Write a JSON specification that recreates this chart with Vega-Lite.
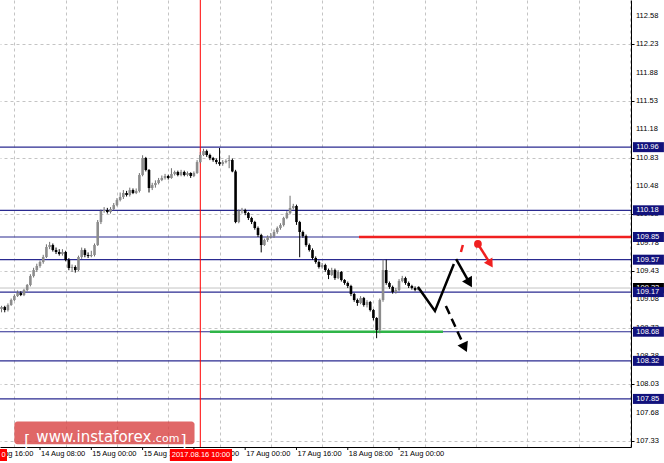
{
"$schema": "https://vega.github.io/schema/vega-lite/v6.json",
"width": 631, "height": 447,
"autosize": "none",
"padding": {"left": 0, "top": 0, "right": 33, "bottom": 16},
"background": "white",
"config": {"view": {"stroke": null}, "font": "Liberation Sans",
 "axis": {"grid": true, "gridColor": "#c4c4c4", "gridDash": [3,3], "gridWidth": 1, "domain": true, "domainColor": "#000000", "domainWidth": 1, "labels": false}},
"datasets": {
"candles": [
{"i":-12,"o":108.96,"h":109.0,"l":108.92,"c":108.985},
{"i":-11,"o":108.985,"h":109.0,"l":108.92,"c":108.948},
{"i":-10,"o":108.948,"h":109.03,"l":108.93,"c":109.01},
{"i":-9,"o":109.01,"h":109.09,"l":109.0,"c":109.072},
{"i":-8,"o":109.072,"h":109.14,"l":109.06,"c":109.121},
{"i":-7,"o":109.121,"h":109.19,"l":109.11,"c":109.158},
{"i":-6,"o":109.158,"h":109.18,"l":109.12,"c":109.134},
{"i":-5,"o":109.134,"h":109.21,"l":109.12,"c":109.195},
{"i":-4,"o":109.195,"h":109.27,"l":109.18,"c":109.257},
{"i":-3,"o":109.257,"h":109.39,"l":109.24,"c":109.368},
{"i":-2,"o":109.368,"h":109.47,"l":109.35,"c":109.442},
{"i":-1,"o":109.442,"h":109.52,"l":109.42,"c":109.492},
{"i":0,"o":109.492,"h":109.56,"l":109.47,"c":109.541},
{"i":1,"o":109.541,"h":109.63,"l":109.52,"c":109.603},
{"i":2,"o":109.603,"h":109.76,"l":109.59,"c":109.727},
{"i":3,"o":109.727,"h":109.79,"l":109.7,"c":109.751},
{"i":4,"o":109.751,"h":109.77,"l":109.67,"c":109.689},
{"i":5,"o":109.689,"h":109.72,"l":109.64,"c":109.665},
{"i":6,"o":109.665,"h":109.7,"l":109.62,"c":109.64},
{"i":7,"o":109.64,"h":109.7,"l":109.62,"c":109.665},
{"i":8,"o":109.665,"h":109.68,"l":109.55,"c":109.566},
{"i":9,"o":109.566,"h":109.59,"l":109.44,"c":109.467},
{"i":10,"o":109.467,"h":109.51,"l":109.42,"c":109.48},
{"i":11,"o":109.48,"h":109.5,"l":109.41,"c":109.442},
{"i":12,"o":109.442,"h":109.62,"l":109.43,"c":109.603},
{"i":13,"o":109.603,"h":109.72,"l":109.58,"c":109.689},
{"i":14,"o":109.689,"h":109.71,"l":109.6,"c":109.628},
{"i":15,"o":109.628,"h":109.66,"l":109.59,"c":109.615},
{"i":16,"o":109.615,"h":109.68,"l":109.6,"c":109.628},
{"i":17,"o":109.628,"h":109.77,"l":109.61,"c":109.751},
{"i":18,"o":109.751,"h":110.06,"l":109.74,"c":110.035},
{"i":19,"o":110.035,"h":110.19,"l":110.01,"c":110.171},
{"i":20,"o":110.171,"h":110.22,"l":110.15,"c":110.184},
{"i":21,"o":110.184,"h":110.21,"l":110.14,"c":110.159},
{"i":22,"o":110.159,"h":110.22,"l":110.14,"c":110.196},
{"i":23,"o":110.196,"h":110.27,"l":110.18,"c":110.245},
{"i":24,"o":110.245,"h":110.33,"l":110.23,"c":110.307},
{"i":25,"o":110.307,"h":110.4,"l":110.29,"c":110.344},
{"i":26,"o":110.344,"h":110.43,"l":110.32,"c":110.394},
{"i":27,"o":110.394,"h":110.42,"l":110.35,"c":110.369},
{"i":28,"o":110.369,"h":110.46,"l":110.35,"c":110.431},
{"i":29,"o":110.431,"h":110.45,"l":110.38,"c":110.394},
{"i":30,"o":110.394,"h":110.45,"l":110.38,"c":110.418},
{"i":31,"o":110.418,"h":110.64,"l":110.4,"c":110.616},
{"i":32,"o":110.616,"h":110.86,"l":110.6,"c":110.826},
{"i":33,"o":110.826,"h":110.84,"l":110.66,"c":110.678},
{"i":34,"o":110.678,"h":110.69,"l":110.4,"c":110.455},
{"i":35,"o":110.455,"h":110.52,"l":110.43,"c":110.492},
{"i":36,"o":110.492,"h":110.55,"l":110.46,"c":110.517},
{"i":37,"o":110.517,"h":110.58,"l":110.5,"c":110.554},
{"i":38,"o":110.554,"h":110.61,"l":110.54,"c":110.579},
{"i":39,"o":110.579,"h":110.63,"l":110.56,"c":110.604},
{"i":40,"o":110.604,"h":110.62,"l":110.56,"c":110.579},
{"i":41,"o":110.579,"h":110.7,"l":110.57,"c":110.628},
{"i":42,"o":110.628,"h":110.67,"l":110.61,"c":110.653},
{"i":43,"o":110.653,"h":110.67,"l":110.6,"c":110.616},
{"i":44,"o":110.616,"h":110.68,"l":110.6,"c":110.653},
{"i":45,"o":110.653,"h":110.67,"l":110.6,"c":110.616},
{"i":46,"o":110.616,"h":110.66,"l":110.6,"c":110.641},
{"i":47,"o":110.641,"h":110.65,"l":110.58,"c":110.604},
{"i":48,"o":110.604,"h":110.66,"l":110.59,"c":110.641},
{"i":49,"o":110.641,"h":110.8,"l":110.63,"c":110.776},
{"i":50,"o":110.776,"h":110.9,"l":110.76,"c":110.863},
{"i":51,"o":110.863,"h":110.94,"l":110.85,"c":110.912},
{"i":52,"o":110.912,"h":110.93,"l":110.84,"c":110.863},
{"i":53,"o":110.863,"h":110.88,"l":110.8,"c":110.826},
{"i":54,"o":110.826,"h":110.84,"l":110.78,"c":110.801},
{"i":55,"o":110.801,"h":110.82,"l":110.75,"c":110.776},
{"i":56,"o":110.776,"h":110.95,"l":110.73,"c":110.752},
{"i":57,"o":110.752,"h":110.8,"l":110.73,"c":110.776},
{"i":58,"o":110.776,"h":110.81,"l":110.76,"c":110.789},
{"i":59,"o":110.789,"h":110.86,"l":110.7,"c":110.801},
{"i":60,"o":110.801,"h":110.82,"l":110.65,"c":110.66},
{"i":61,"o":110.66,"h":110.68,"l":110.02,"c":110.035},
{"i":62,"o":110.035,"h":110.19,"l":110.02,"c":110.171},
{"i":63,"o":110.171,"h":110.21,"l":110.14,"c":110.184},
{"i":64,"o":110.184,"h":110.2,"l":110.12,"c":110.146},
{"i":65,"o":110.146,"h":110.16,"l":110.06,"c":110.085},
{"i":66,"o":110.085,"h":110.1,"l":110.01,"c":110.035},
{"i":67,"o":110.035,"h":110.05,"l":109.94,"c":109.961},
{"i":68,"o":109.961,"h":109.98,"l":109.85,"c":109.875},
{"i":69,"o":109.875,"h":109.89,"l":109.66,"c":109.751},
{"i":70,"o":109.751,"h":109.83,"l":109.74,"c":109.813},
{"i":71,"o":109.813,"h":109.87,"l":109.79,"c":109.85},
{"i":72,"o":109.85,"h":109.9,"l":109.83,"c":109.862},
{"i":73,"o":109.862,"h":109.94,"l":109.84,"c":109.912},
{"i":74,"o":109.912,"h":109.98,"l":109.89,"c":109.961},
{"i":75,"o":109.961,"h":110.02,"l":109.94,"c":109.998},
{"i":76,"o":109.998,"h":110.1,"l":109.98,"c":110.085},
{"i":77,"o":110.085,"h":110.17,"l":110.07,"c":110.146},
{"i":78,"o":110.146,"h":110.36,"l":110.13,"c":110.208},
{"i":79,"o":110.208,"h":110.26,"l":110.19,"c":110.233},
{"i":80,"o":110.233,"h":110.25,"l":110.0,"c":110.035},
{"i":81,"o":110.035,"h":110.05,"l":109.6,"c":109.912},
{"i":82,"o":109.912,"h":109.93,"l":109.84,"c":109.862},
{"i":83,"o":109.862,"h":109.88,"l":109.73,"c":109.751},
{"i":84,"o":109.751,"h":109.77,"l":109.67,"c":109.689},
{"i":85,"o":109.689,"h":109.71,"l":109.57,"c":109.591},
{"i":86,"o":109.591,"h":109.61,"l":109.52,"c":109.541},
{"i":87,"o":109.541,"h":109.56,"l":109.46,"c":109.48},
{"i":88,"o":109.48,"h":109.53,"l":109.46,"c":109.504},
{"i":89,"o":109.504,"h":109.52,"l":109.42,"c":109.442},
{"i":90,"o":109.442,"h":109.46,"l":109.33,"c":109.381},
{"i":91,"o":109.381,"h":109.47,"l":109.37,"c":109.442},
{"i":92,"o":109.442,"h":109.46,"l":109.32,"c":109.343},
{"i":93,"o":109.343,"h":109.44,"l":109.33,"c":109.418},
{"i":94,"o":109.418,"h":109.43,"l":109.3,"c":109.319},
{"i":95,"o":109.319,"h":109.33,"l":109.26,"c":109.282},
{"i":96,"o":109.282,"h":109.3,"l":109.22,"c":109.245},
{"i":97,"o":109.245,"h":109.26,"l":109.12,"c":109.146},
{"i":98,"o":109.146,"h":109.16,"l":109.05,"c":109.072},
{"i":99,"o":109.072,"h":109.09,"l":109.0,"c":109.035},
{"i":100,"o":109.035,"h":109.12,"l":109.02,"c":109.096},
{"i":101,"o":109.096,"h":109.11,"l":108.99,"c":109.01},
{"i":102,"o":109.01,"h":109.07,"l":108.98,"c":109.047},
{"i":103,"o":109.047,"h":109.06,"l":108.93,"c":108.948},
{"i":104,"o":108.948,"h":108.96,"l":108.82,"c":108.85},
{"i":105,"o":108.85,"h":108.86,"l":108.6,"c":108.701},
{"i":106,"o":108.701,"h":109.09,"l":108.66,"c":109.072},
{"i":107,"o":109.072,"h":109.57,"l":109.05,"c":109.442},
{"i":108,"o":109.442,"h":109.57,"l":109.26,"c":109.282},
{"i":109,"o":109.282,"h":109.3,"l":109.21,"c":109.233},
{"i":110,"o":109.233,"h":109.25,"l":109.15,"c":109.171},
{"i":111,"o":109.171,"h":109.22,"l":109.15,"c":109.195},
{"i":112,"o":109.195,"h":109.33,"l":109.18,"c":109.307},
{"i":113,"o":109.307,"h":109.37,"l":109.29,"c":109.343},
{"i":114,"o":109.343,"h":109.36,"l":109.26,"c":109.282},
{"i":115,"o":109.282,"h":109.3,"l":109.22,"c":109.245},
{"i":116,"o":109.245,"h":109.26,"l":109.2,"c":109.22},
{"i":117,"o":109.22,"h":109.24,"l":109.18,"c":109.195},
{"i":118,"o":109.195,"h":109.24,"l":109.19,"c":109.22}
],
"xlabels": [{"i":-16,"t":"11 Aug 16:00"},{"i":0,"t":"14 Aug 08:00"},{"i":16,"t":"15 Aug 00:00"},{"i":32,"t":"15 Aug 16:00"},{"i":48,"t":"16 Aug 08:00"},{"i":64,"t":"17 Aug 00:00"},{"i":80,"t":"17 Aug 16:00"},{"i":96,"t":"18 Aug 08:00"},{"i":112,"t":"21 Aug 00:00"}],
"ylabels": [{"p":107.33,"t":"107.33"},{"p":107.68,"t":"107.68"},{"p":108.03,"t":"108.03"},{"p":108.38,"t":"108.38"},{"p":108.73,"t":"108.73"},{"p":109.08,"t":"109.08"},{"p":109.43,"t":"109.43"},{"p":109.78,"t":"109.78"},{"p":110.13,"t":"110.13"},{"p":110.48,"t":"110.48"},{"p":110.83,"t":"110.83"},{"p":111.18,"t":"111.18"},{"p":111.53,"t":"111.53"},{"p":111.88,"t":"111.88"},{"p":112.23,"t":"112.23"},{"p":112.58,"t":"112.58"}],
"levels": [{"p":110.96,"t":"110.96"},{"p":110.18,"t":"110.18"},{"p":109.85,"t":"109.85"},{"p":109.57,"t":"109.57"},{"p":109.17,"t":"109.17"},{"p":108.68,"t":"108.68"},{"p":108.32,"t":"108.32"},{"p":107.85,"t":"107.85"}],
"bid": [{"p":109.22,"t":"109.22"}],
"mark": [{"i":50}],
"green": [{"i":53,"i2":125.7,"p":108.68}],
"red": [{"i":99.5,"i2":184.35,"p":109.85}],
"zig": [{"i":117.9,"p":109.233},{"i":123.2,"p":108.936},{"i":129.1,"p":109.516}],
"arr1": [{"i":129.8,"p":109.578},{"i":133.97,"p":109.283}],
"arr1h": [{"i":133.97,"p":109.283}],
"arr2": [{"i":126.6,"p":108.999},{"i":132.5,"p":108.485}],
"arr2h": [{"i":132.5,"p":108.485}],
"rdash": [{"i":131.3,"p":109.665},{"i":131.9,"p":109.751}],
"rdot": [{"i":136.6,"p":109.764}],
"rarr": [{"i":136.6,"p":109.764},{"i":140.5,"p":109.519}],
"rarrh": [{"i":140.5,"p":109.519}],
"wm": [{"i":-8,"i2":48.2,"p":107.29,"p2":107.57}],
"timebox": [{"i":40.5,"i2":59.9,"p":107.083,"p2":107.231,"t":"2017.08.16 10:00","ti":50.2,"tp":107.157}],
"leftbox": [{"i":-12.48,"i2":-10.3,"p":107.083,"p2":107.231,"t":"0","ti":-11.4,"tp":107.157}]
},
"layer": [
{"data": {"name": "wm"}, "mark": {"type": "rect", "color": "#d94545", "opacity": 0.82, "cornerRadius": 3},
 "encoding": {
  "x": {"field": "i", "type": "quantitative", "title": null, "scale": {"domain": [-12.48, 184.35], "nice": false, "zero": false, "padding": 0},
   "axis": {"title": null, "values": [-16,-8,0,8,16,24,32,40,48,56,64,72,80,88,96,104,112,120,128,136,144,152,160,168,176,184], "ticks": false, "labels": false}},
  "x2": {"field": "i2"},
  "y": {"field": "p", "type": "quantitative", "title": null, "scale": {"domain": [107.256, 112.778], "nice": false, "zero": false, "padding": 0},
   "axis": {"title": null, "orient": "right", "labels": false, "ticks": true, "tickSize": 3, "tickColor": "#000000",
    "values": [107.33,107.68,108.03,108.38,108.73,109.08,109.43,109.78,110.13,110.48,110.83,111.18,111.53,111.88,112.23,112.58]}},
  "y2": {"field": "p2"}
 }},
{"data": {"name": "wm"}, "mark": {"type": "text", "text": "[", "color": "white", "fontSize": 17, "align": "left", "baseline": "middle", "dx": 10, "dy": -3},
 "encoding": {"x": {"field": "i", "type": "quantitative", "title": null}, "y": {"field": "p", "type": "quantitative", "title": null}}},
{"data": {"name": "wm"}, "mark": {"type": "text", "text": "www.instaforex", "color": "white", "fontSize": 15, "font": "DejaVu Sans", "align": "left", "baseline": "alphabetic", "dx": 22, "dy": -2},
 "encoding": {"x": {"field": "i", "type": "quantitative", "title": null}, "y": {"field": "p", "type": "quantitative", "title": null}}},
{"data": {"name": "wm"}, "mark": {"type": "text", "text": ".com", "color": "white", "fontSize": 11, "font": "DejaVu Sans", "align": "left", "baseline": "alphabetic", "dx": 138, "dy": -2},
 "encoding": {"x": {"field": "i", "type": "quantitative", "title": null}, "y": {"field": "p", "type": "quantitative", "title": null}}},
{"data": {"name": "wm"}, "mark": {"type": "text", "text": "]", "color": "white", "fontSize": 17, "align": "right", "baseline": "middle", "dx": -8, "dy": -3},
 "encoding": {"x": {"field": "i2", "type": "quantitative", "title": null}, "y": {"field": "p", "type": "quantitative", "title": null}}},
{"data": {"name": "bid"}, "mark": {"type": "rule", "color": "#c4c4c4", "strokeWidth": 1},
 "encoding": {"y": {"field": "p", "type": "quantitative", "title": null}}},
{"data": {"name": "levels"}, "mark": {"type": "rule", "color": "#2a2a90", "strokeWidth": 1.2},
 "encoding": {"y": {"field": "p", "type": "quantitative", "title": null}}},
{"data": {"name": "green"}, "mark": {"type": "rule", "color": "#2fb548", "strokeWidth": 2.5},
 "encoding": {"x": {"field": "i", "type": "quantitative", "title": null}, "x2": {"field": "i2"}, "y": {"field": "p", "type": "quantitative", "title": null}}},
{"data": {"name": "red"}, "mark": {"type": "rule", "color": "#f02020", "strokeWidth": 2.5},
 "encoding": {"x": {"field": "i", "type": "quantitative", "title": null}, "x2": {"field": "i2"}, "y": {"field": "p", "type": "quantitative", "title": null}}},
{"data": {"name": "mark"}, "mark": {"type": "rule", "color": "#ff0000", "strokeWidth": 1},
 "encoding": {"x": {"field": "i", "type": "quantitative", "title": null}}},
{"data": {"name": "candles"}, "mark": {"type": "rule", "strokeWidth": 1},
 "encoding": {"x": {"field": "i", "type": "quantitative", "title": null}, "y": {"field": "l", "type": "quantitative", "title": null}, "y2": {"field": "h"},
  "color": {"condition": {"test": "datum.c >= datum.o", "value": "#6e6e6e"}, "value": "#000000"}}},
{"data": {"name": "candles"}, "mark": {"type": "bar", "size": 2.6},
 "encoding": {"x": {"field": "i", "type": "quantitative", "title": null}, "y": {"field": "o", "type": "quantitative", "title": null}, "y2": {"field": "c"},
  "color": {"condition": {"test": "datum.c >= datum.o", "value": "#8c8c8c"}, "value": "#000000"}}},
{"data": {"name": "zig"}, "mark": {"type": "line", "color": "#000000", "strokeWidth": 2.5},
 "encoding": {"x": {"field": "i", "type": "quantitative", "title": null}, "y": {"field": "p", "type": "quantitative", "title": null}}},
{"data": {"name": "arr1"}, "mark": {"type": "line", "color": "#000000", "strokeWidth": 2.5},
 "encoding": {"x": {"field": "i", "type": "quantitative", "title": null}, "y": {"field": "p", "type": "quantitative", "title": null}}},
{"data": {"name": "arr1h"}, "mark": {"type": "point", "shape": "triangle-up", "filled": true, "color": "#000000", "size": 130, "angle": 150, "opacity": 1},
 "encoding": {"x": {"field": "i", "type": "quantitative", "title": null}, "y": {"field": "p", "type": "quantitative", "title": null}}},
{"data": {"name": "arr2"}, "mark": {"type": "line", "color": "#000000", "strokeWidth": 2.5, "strokeDash": [9, 5]},
 "encoding": {"x": {"field": "i", "type": "quantitative", "title": null}, "y": {"field": "p", "type": "quantitative", "title": null}}},
{"data": {"name": "arr2h"}, "mark": {"type": "point", "shape": "triangle-up", "filled": true, "color": "#000000", "size": 130, "angle": 155, "opacity": 1},
 "encoding": {"x": {"field": "i", "type": "quantitative", "title": null}, "y": {"field": "p", "type": "quantitative", "title": null}}},
{"data": {"name": "rdash"}, "mark": {"type": "line", "color": "#f02020", "strokeWidth": 2.5},
 "encoding": {"x": {"field": "i", "type": "quantitative", "title": null}, "y": {"field": "p", "type": "quantitative", "title": null}}},
{"data": {"name": "rarr"}, "mark": {"type": "line", "color": "#f02020", "strokeWidth": 2.5},
 "encoding": {"x": {"field": "i", "type": "quantitative", "title": null}, "y": {"field": "p", "type": "quantitative", "title": null}}},
{"data": {"name": "rdot"}, "mark": {"type": "point", "shape": "circle", "filled": true, "color": "#f02020", "size": 60, "opacity": 1},
 "encoding": {"x": {"field": "i", "type": "quantitative", "title": null}, "y": {"field": "p", "type": "quantitative", "title": null}}},
{"data": {"name": "rarrh"}, "mark": {"type": "point", "shape": "triangle-up", "filled": true, "color": "#f02020", "size": 100, "angle": 148, "opacity": 1},
 "encoding": {"x": {"field": "i", "type": "quantitative", "title": null}, "y": {"field": "p", "type": "quantitative", "title": null}}},
{"data": {"name": "ylabels"}, "mark": {"type": "text", "color": "#000000", "clip": false, "fontSize": 7.5, "align": "left", "baseline": "middle", "dx": 5},
 "encoding": {"x": {"datum": 184.35, "type": "quantitative", "title": null}, "y": {"field": "p", "type": "quantitative", "title": null}, "text": {"field": "t"}}},
{"data": {"name": "xlabels"}, "mark": {"type": "rule", "color": "#000000", "clip": false, "strokeWidth": 1},
 "encoding": {"x": {"field": "i", "type": "quantitative", "title": null}, "y": {"datum": 107.256, "type": "quantitative", "title": null}, "y2": {"datum": 107.219}}},
{"data": {"name": "xlabels"}, "mark": {"type": "text", "color": "#000000", "clip": false, "fontSize": 7.5, "align": "left", "baseline": "top", "dx": 1, "dy": 3},
 "encoding": {"x": {"field": "i", "type": "quantitative", "title": null}, "y": {"datum": 107.256, "type": "quantitative", "title": null}, "text": {"field": "t"}}},
{"data": {"name": "bid"}, "mark": {"type": "rect", "color": "#000000", "clip": false, "height": 10, "width": 31, "align": "left"},
 "encoding": {"x": {"datum": 184.95, "type": "quantitative", "title": null}, "y": {"field": "p", "type": "quantitative", "title": null}}},
{"data": {"name": "bid"}, "mark": {"type": "text", "color": "white", "clip": false, "fontSize": 7.5, "align": "left", "baseline": "middle"},
 "encoding": {"x": {"datum": 186.0, "type": "quantitative", "title": null}, "y": {"field": "p", "type": "quantitative", "title": null}, "text": {"field": "t"}}},
{"data": {"name": "levels"}, "mark": {"type": "rect", "color": "#12127c", "clip": false, "height": 10, "width": 31, "align": "left"},
 "encoding": {"x": {"datum": 184.95, "type": "quantitative", "title": null}, "y": {"field": "p", "type": "quantitative", "title": null}}},
{"data": {"name": "levels"}, "mark": {"type": "text", "color": "white", "clip": false, "fontSize": 7.5, "align": "left", "baseline": "middle"},
 "encoding": {"x": {"datum": 186.0, "type": "quantitative", "title": null}, "y": {"field": "p", "type": "quantitative", "title": null}, "text": {"field": "t"}}},
{"data": {"name": "timebox"}, "mark": {"type": "rect", "color": "#ff0000", "clip": false},
 "encoding": {"x": {"field": "i", "type": "quantitative", "title": null}, "x2": {"field": "i2"}, "y": {"field": "p", "type": "quantitative", "title": null}, "y2": {"field": "p2"}}},
{"data": {"name": "timebox"}, "mark": {"type": "text", "color": "white", "clip": false, "fontSize": 7.5, "align": "center", "baseline": "middle"},
 "encoding": {"x": {"field": "ti", "type": "quantitative", "title": null}, "y": {"field": "tp", "type": "quantitative", "title": null}, "text": {"field": "t"}}},
{"data": {"name": "leftbox"}, "mark": {"type": "rect", "color": "#ff0000", "clip": false},
 "encoding": {"x": {"field": "i", "type": "quantitative", "title": null}, "x2": {"field": "i2"}, "y": {"field": "p", "type": "quantitative", "title": null}, "y2": {"field": "p2"}}},
{"data": {"name": "leftbox"}, "mark": {"type": "text", "color": "white", "clip": false, "fontSize": 7.5, "align": "center", "baseline": "middle"},
 "encoding": {"x": {"field": "ti", "type": "quantitative", "title": null}, "y": {"field": "tp", "type": "quantitative", "title": null}, "text": {"field": "t"}}}
]
}
